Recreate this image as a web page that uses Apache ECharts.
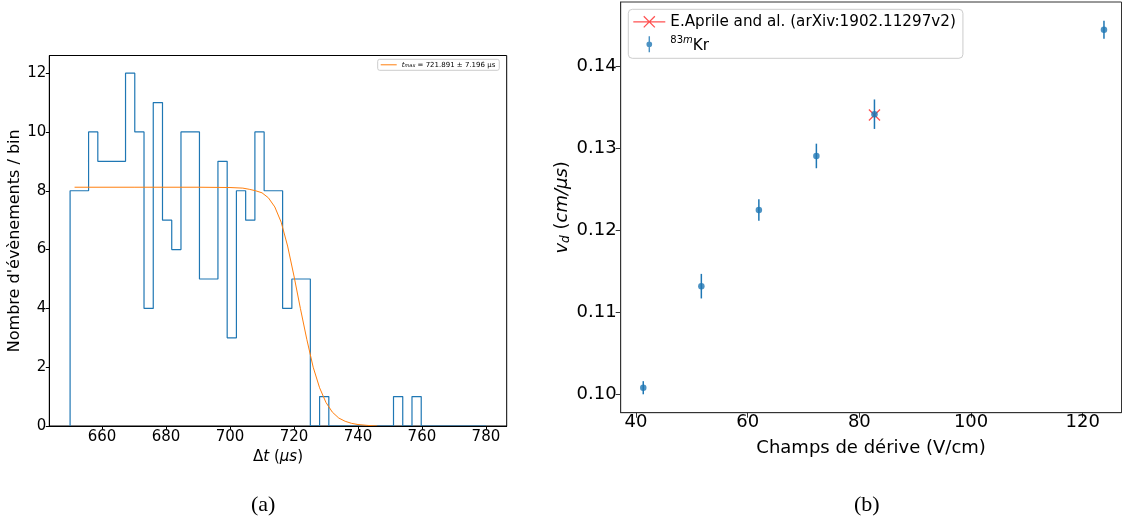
<!DOCTYPE html>
<html>
<head>
<meta charset="utf-8">
<script src="https://cdn.jsdelivr.net/npm/echarts@6/dist/echarts.min.js"></script>
<style>
  html, body { margin: 0; padding: 0; background: #fff; }
  #chart { width: 1122px; height: 523px; }
</style>
</head>
<body>
<div id="chart"></div>
<script>
// (a) histogram of drift times, 45 bins between 650 and 780 us
var binStart = 650;
var binEnd = 780;
var histCounts = [8, 8, 10, 9, 9, 9, 12, 10, 4, 11, 7, 6, 10, 10, 5, 5, 9, 3, 8, 7, 10, 8, 8, 4, 5, 5, 0, 1,
                  0, 0, 0, 0, 0, 0, 0, 1, 0, 1, 0, 0, 0, 0, 0, 0, 0];
// fitted curve
var fitT = [651.4, 670, 690, 700, 704, 706, 708, 710, 712, 714, 716, 718, 720, 722, 724, 726, 728, 730, 732, 734, 736, 738, 740, 743, 746];
var fitN = [8.12, 8.12, 8.12, 8.11, 8.09, 8.05, 8.0, 7.93, 7.76, 7.45, 6.93, 6.12, 5.1, 4.0, 2.95, 2.0, 1.3, 0.8, 0.47, 0.27, 0.16, 0.09, 0.05, 0.02, 0.0];
var histTicksX = [660, 680, 700, 720, 740, 760, 780];
var histTicksY = [0, 2, 4, 6, 8, 10, 12];

// (b) drift velocity vs drift field
var fieldE = [41.3, 51.7, 62.0, 72.3, 82.7, 123.8];
var vd = [0.1008, 0.1132, 0.1225, 0.1291, 0.1342, 0.1445];
var vdErr = [0.0008, 0.0015, 0.0013, 0.0015, 0.0018, 0.0011];
var aprileE = [82.7];
var aprileVd = [0.1341];
var vdTicksX = [40, 60, 80, 100, 120];
var vdTicksY = [0.10, 0.11, 0.12, 0.13, 0.14];

var FONT = 'DejaVu Sans';
var aprileName = 'E.Aprile and al. (arXiv:1902.11297v2)';
var krName = '83mKr';
var fitName = 'tmax';

var histPoints = [[binStart, 0]];
var binWidth = (binEnd - binStart) / histCounts.length;
histCounts.forEach(function (c, i) {
  var x0 = binStart + i * binWidth;
  histPoints.push([x0, c], [x0 + binWidth, c]);
});
histPoints.push([binEnd, 0]);

var fitPoints = fitT.map(function (t, i) { return [t, fitN[i]]; });
var krPoints = fieldE.map(function (e, i) { return [e, vd[i]]; });
var errPoints = fieldE.map(function (e, i) { return [e, vd[i], vdErr[i]]; });
var aprilePoints = aprileE.map(function (e, i) { return [e, aprileVd[i]]; });

var xMark = 'path://M0,0.9 L0.9,0 L12,11.1 L11.1,12 Z M0,11.1 L11.1,0 L12,0.9 L0.9,12 Z';
var aprileIcon = 'path://M10,1.9 L10.9,1 L22,12.1 L21.1,13 Z M10,12.1 L21.1,1 L22,1.9 L10.9,13 Z M0,6.4 L32,6.4 L32,7.6 L0,7.6 Z';
var krIcon = 'path://M-0.7,0 L0.7,0 L0.7,15.7 L-0.7,15.7 Z M2.8,7.85 A2.8,2.8 0 1,1 -2.8,7.85 A2.8,2.8 0 1,1 2.8,7.85 Z';
var fitIcon = 'path://M0,0 L16,0 L16,1 L0,1 Z';

function axisBase(opts) {
  return Object.assign({
    type: 'value',
    z: 5,
    nameLocation: 'middle',
    splitLine: { show: false },
    axisLine: { show: true, onZero: false, lineStyle: { color: '#000', width: 1 } },
    axisTick: { show: true, length: 3.5, lineStyle: { color: '#000' } },
    axisLabel: { color: '#000', fontFamily: FONT, fontSize: 15 }
  }, opts);
}

var chart = echarts.init(document.getElementById('chart'), null, { renderer: 'canvas' });

var option = {
  animation: false,
  backgroundColor: '#fff',
  grid: [
    { left: 49.3, top: 55.5, width: 457.4, height: 370.5, show: true, borderColor: '#000', borderWidth: 1 },
    { left: 620.7, top: 2, width: 500.8, height: 410.7, show: true, borderColor: '#333', borderWidth: 1 }
  ],
  xAxis: [
    axisBase({
      gridIndex: 0, min: 643.5, max: 786.5,
      name: '{n|Δ}{i|t}{n| (}{i|µs}{n|)}', nameGap: 19.5,
      nameTextStyle: { rich: {
        n: { fontFamily: FONT, fontSize: 15, color: '#000' },
        i: { fontFamily: FONT, fontSize: 15, fontStyle: 'italic', color: '#000' }
      } },
      axisTick: { show: true, length: 3.5, lineStyle: { color: '#000' }, customValues: histTicksX },
      axisLabel: { color: '#000', fontFamily: FONT, fontSize: 15, margin: 4, customValues: histTicksX }
    }),
    axisBase({
      gridIndex: 1, min: 37.26, max: 126.94,
      name: 'Champs de dérive (V/cm)', nameGap: 27,
      nameTextStyle: { fontFamily: FONT, fontSize: 18, color: '#000' },
      axisLine: { show: true, onZero: false, lineStyle: { color: '#333', width: 1 } },
      axisTick: { show: true, length: 5, lineStyle: { color: '#333' }, customValues: vdTicksX },
      axisLabel: { color: '#000', fontFamily: FONT, fontSize: 18, margin: 1, customValues: vdTicksX }
    })
  ],
  yAxis: [
    axisBase({
      gridIndex: 0, min: 0, max: 12.6,
      name: "Nombre d'évènements / bin", nameGap: 23.5,
      nameTextStyle: { fontFamily: FONT, fontSize: 16, color: '#000' },
      axisTick: { show: true, length: 3.5, lineStyle: { color: '#000' }, customValues: histTicksY },
      axisLabel: { color: '#000', fontFamily: FONT, fontSize: 15, margin: 3, customValues: histTicksY }
    }),
    axisBase({
      gridIndex: 1, min: 0.09775, max: 0.1479,
      name: '{i|v}{sub|d}{n| (}{i|cm/µs}{n|)}', nameGap: 49,
      nameTextStyle: { rich: {
        n: { fontFamily: FONT, fontSize: 18, color: '#000' },
        i: { fontFamily: FONT, fontSize: 18, fontStyle: 'italic', color: '#000' },
        sub: { fontFamily: FONT, fontSize: 12, fontStyle: 'italic', color: '#000', verticalAlign: 'bottom' }
      } },
      axisLine: { show: true, onZero: false, lineStyle: { color: '#333', width: 1 } },
      axisTick: { show: true, length: 5, lineStyle: { color: '#333' }, customValues: vdTicksY },
      axisLabel: {
        color: '#000', fontFamily: FONT, fontSize: 18, margin: 4, customValues: vdTicksY,
        formatter: function (v) { return v.toFixed(2); }
      }
    })
  ],
  legend: [
    {
      data: [{ name: fitName, icon: fitIcon }],
      left: 377.7, top: 59.3,
      orient: 'vertical',
      padding: [2, 4, 2, 3],
      itemWidth: 16, itemHeight: 8, itemGap: 0, itemTextGap: 6,
      borderColor: '#ccc', borderWidth: 1, borderRadius: 2,
      backgroundColor: 'rgba(255,255,255,0.8)',
      formatter: function () { return '{t|t}{s|max}{n| = 721.891 ± 7.196 µs}'; },
      textStyle: { rich: {
        t: { fontFamily: FONT, fontSize: 7, fontStyle: 'italic', color: '#000' },
        s: { fontFamily: FONT, fontSize: 5, fontStyle: 'italic', color: '#000', verticalAlign: 'bottom' },
        n: { fontFamily: FONT, fontSize: 7, color: '#000' }
      } }
    },
    {
      data: [{ name: aprileName, icon: aprileIcon }, { name: krName, icon: krIcon }],
      left: 628.3, top: 9.3,
      orient: 'vertical',
      padding: [5, 7, 5, 5],
      itemWidth: 32, itemHeight: 16, itemGap: 6, itemTextGap: 19,
      symbolKeepAspect: true,
      borderColor: '#ccc', borderWidth: 1, borderRadius: 4,
      backgroundColor: 'rgba(255,255,255,0.8)',
      formatter: function (name) {
        if (name === krName) return '{sup|83}{supi|m}{n|Kr}';
        return name;
      },
      textStyle: {
        fontFamily: FONT, fontSize: 15.2, color: '#000',
        rich: {
          sup: { fontFamily: FONT, fontSize: 10, color: '#000', verticalAlign: 'top' },
          supi: { fontFamily: FONT, fontSize: 10, fontStyle: 'italic', color: '#000', verticalAlign: 'top' },
          n: { fontFamily: FONT, fontSize: 15.2, color: '#000', verticalAlign: 'bottom', lineHeight: 18 }
        }
      }
    }
  ],
  series: [
    {
      name: 'hist', type: 'line', xAxisIndex: 0, yAxisIndex: 0,
      data: histPoints, symbol: 'none', z: 2,
      lineStyle: { color: '#1f77b4', width: 1.2 }
    },
    {
      name: fitName, type: 'line', xAxisIndex: 0, yAxisIndex: 0,
      data: fitPoints, symbol: 'none', z: 3,
      itemStyle: { color: '#ff7f0e' },
      lineStyle: { color: '#ff7f0e', width: 1 }
    },
    {
      name: aprileName, type: 'scatter', xAxisIndex: 1, yAxisIndex: 1,
      data: aprilePoints, symbol: xMark, symbolSize: 12, z: 2,
      itemStyle: { color: 'rgba(255,0,0,0.85)' }
    },
    {
      name: 'err', type: 'custom', xAxisIndex: 1, yAxisIndex: 1,
      data: errPoints, z: 3,
      encode: { x: 0, y: 1 },
      renderItem: function (params, api) {
        var x = api.value(0), y = api.value(1), e = api.value(2);
        var p1 = api.coord([x, y + e]);
        var p2 = api.coord([x, y - e]);
        return {
          type: 'line',
          shape: { x1: p1[0], y1: p1[1], x2: p2[0], y2: p2[1] },
          style: { stroke: '#1f77b4', lineWidth: 1.5 }
        };
      }
    },
    {
      name: krName, type: 'scatter', xAxisIndex: 1, yAxisIndex: 1,
      data: krPoints, symbol: 'circle', symbolSize: 6.5, z: 4,
      itemStyle: { color: '#1f77b4' }
    }
  ],
  graphic: [
    { type: 'text', left: 251, top: 494, style: { text: '(a)', fontFamily: 'Liberation Serif', fontSize: 22, fill: '#000' } },
    { type: 'text', left: 854, top: 494, style: { text: '(b)', fontFamily: 'Liberation Serif', fontSize: 22, fill: '#000' } }
  ]
};

chart.setOption(option);
</script>
</body>
</html>
